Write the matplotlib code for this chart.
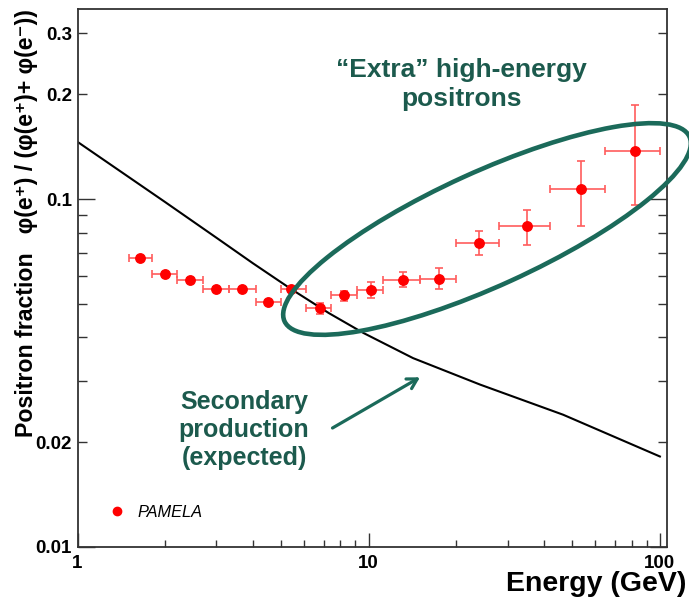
import matplotlib
matplotlib.use("Agg")
import matplotlib.pyplot as plt
from matplotlib.patches import Ellipse
from matplotlib.ticker import FixedLocator, FuncFormatter

# PAMELA positron fraction: energy bins (GeV), bin centres and measured fraction
bin_lo = [1.5, 1.8, 2.2, 2.7, 3.3, 4.1, 5.0, 6.1, 7.4, 9.1, 11.2, 15.0, 20.0, 28.0, 42.0, 65.0]
bin_hi = [1.8, 2.2, 2.7, 3.3, 4.1, 5.0, 6.1, 7.4, 9.1, 11.2, 15.0, 20.0, 28.0, 42.0, 65.0, 100.0]
energy = [1.64, 1.99, 2.43, 2.98, 3.67, 4.51, 5.43, 6.80, 8.25, 10.2, 13.1, 17.4, 23.9, 34.9, 53.5, 82.3]
fraction = [0.0677, 0.0610, 0.0585, 0.0552, 0.0552, 0.0506, 0.0550, 0.0485,
            0.0530, 0.0548, 0.0587, 0.0591, 0.0749, 0.0836, 0.107, 0.1377]
err_lo = [0.0008, 0.0008, 0.0008, 0.0008, 0.0008, 0.0008, 0.0009, 0.0017,
          0.0021, 0.0029, 0.0030, 0.0040, 0.0060, 0.0096, 0.0236, 0.0416]
err_hi = [0.0008, 0.0008, 0.0008, 0.0008, 0.0008, 0.0008, 0.0009, 0.0018,
          0.0013, 0.0028, 0.0030, 0.0042, 0.0058, 0.0094, 0.0220, 0.0490]

# Expected secondary production
sec_energy = [1.0, 2.0, 3.0, 4.0, 5.4, 7.3, 9.6, 14.2, 24.1, 46.5, 100.0]
sec_fraction = [0.146, 0.098, 0.0774, 0.0654, 0.0552, 0.0470, 0.0412, 0.0349,
                0.0293, 0.0240, 0.0182]

# Axis ticks and labels
x_major = [1, 10, 100]
x_minor = [2, 3, 4, 5, 6, 7, 8, 9, 20, 30, 40, 50, 60, 70, 80, 90]
y_major = [0.01, 0.1]
y_minor = [0.02, 0.03, 0.04, 0.05, 0.06, 0.07, 0.08, 0.09, 0.2, 0.3]
y_minor_labeled = [0.02, 0.2, 0.3]

TEAL = "#1b6a5a"
TEXT_TEAL = "#1c5a4d"

plt.rcParams["font.family"] = ["Liberation Sans", "DejaVu Sans"]
plt.rcParams["font.weight"] = "bold"

fig = plt.figure(figsize=(6.89, 6.04), dpi=100)
ax = fig.add_axes([0.1125, 0.0944, 0.8551, 0.8902])

ax.set_xscale("log")
ax.set_yscale("log")
ax.set_xlim(1, 105.5)
ax.set_ylim(0.01, 0.351)

xerr = [[e - lo for e, lo in zip(energy, bin_lo)],
        [hi - e for e, hi in zip(energy, bin_hi)]]
ax.errorbar(energy, fraction, xerr=xerr, yerr=[err_lo, err_hi], fmt="o",
            color="#ff0000", ms=6.8, ecolor="#ff5c5c", elinewidth=1.2,
            capsize=3.2, capthick=1.2, zorder=3)

ax.plot(sec_energy, sec_fraction, color="black", lw=1.5, zorder=2)

# Legend
ax.plot([], [], "o", color="#ff0000", ms=6, label="PAMELA")
leg = ax.legend(loc="center left", bbox_to_anchor=(0.053, 0.065), frameon=False,
                handlelength=1.0, handletextpad=0.75, borderpad=0, borderaxespad=0,
                prop={"size": 11.8, "style": "italic", "weight": "normal"})

# Ticks
ax.xaxis.set_major_locator(FixedLocator(x_major))
ax.xaxis.set_minor_locator(FixedLocator(x_minor))
ax.xaxis.set_major_formatter(FuncFormatter(lambda v, p: f"{v:g}"))
ax.xaxis.set_minor_formatter(FuncFormatter(lambda v, p: ""))
ax.yaxis.set_major_locator(FixedLocator(y_major))
ax.yaxis.set_minor_locator(FixedLocator(y_minor))
ax.yaxis.set_major_formatter(FuncFormatter(lambda v, p: f"{v:g}"))
ax.yaxis.set_minor_formatter(FuncFormatter(
    lambda v, p: f"{v:g}" if any(abs(v - t) < 1e-9 for t in y_minor_labeled) else ""))

ax.tick_params(axis="both", which="both", direction="in", right=True, top=False,
               colors="#333333", labelcolor="black", labelsize=13.5)
ax.tick_params(axis="y", which="major", length=12, width=1.0, pad=4)
ax.tick_params(axis="y", which="minor", length=6.5, width=1.0, pad=4)
ax.tick_params(axis="x", which="major", length=10, width=1.0, pad=6)
ax.tick_params(axis="x", which="minor", length=5, width=1.0, pad=6)
for s in ax.spines.values():
    s.set_color("#333333")
    s.set_linewidth(1.3)

# Axis titles
fig.text(27 / 689, 0.63, "Positron fraction   φ(e⁺) / (φ(e⁺)+ φ(e⁻))",
         rotation=90, ha="center", va="center", fontsize=16.7, fontweight="bold")
fig.text(686 / 689, 0.033, "Energy (GeV)", ha="right", va="center",
         fontsize=20.5, fontweight="bold")

# Annotations
fig.text(461 / 689, 0.86, "“Extra” high-energy\npositrons", ha="center", va="center",
         fontsize=19, fontweight="bold", color=TEXT_TEAL, linespacing=1.22)
fig.text(244 / 689, 0.288, "Secondary\nproduction\n(expected)", ha="center", va="center",
         fontsize=18, fontweight="bold", color=TEXT_TEAL, linespacing=1.2)

ell = Ellipse((4.87, 3.75), width=4.45, height=1.14, angle=24.5,
              transform=fig.dpi_scale_trans, fill=False, ec=TEAL, lw=3.3, clip_on=False)
fig.add_artist(ell)

ax.annotate("", xy=(420, 604 - 377.3), xytext=(332.5, 604 - 428),
            xycoords="figure pixels", textcoords="figure pixels", annotation_clip=False,
            arrowprops=dict(arrowstyle="->,head_length=0.7,head_width=0.4", lw=2.3,
                            color=TEAL, shrinkA=0, shrinkB=0))

fig.savefig("out.png", dpi=100)
